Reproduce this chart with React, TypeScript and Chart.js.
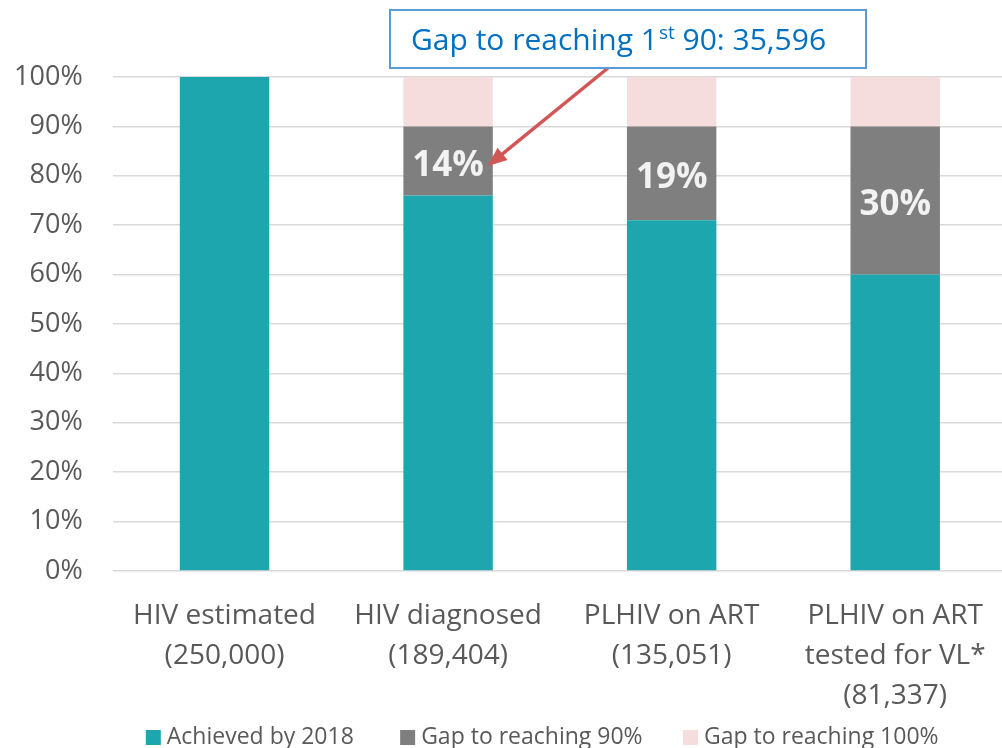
import React, { useEffect, useRef } from "react";
import { Chart, registerables } from "chart.js";

Chart.register(...registerables);

// ---- data ----
const categories: string[][] = [
  ["HIV estimated", "(250,000)"],
  ["HIV diagnosed", "(189,404)"],
  ["PLHIV on ART", "(135,051)"],
  ["PLHIV on ART", "tested for VL*", "(81,337)"],
];
const achieved = [100, 76, 71, 60];
const gapTo90 = [0, 14, 19, 30];
const gapTo100 = [0, 10, 10, 10];
const seriesNames = ["Achieved by 2018", "Gap to reaching 90%", "Gap to reaching 100%"];
const annotationMain = "Gap to reaching 1";
const annotationSup = "st";
const annotationRest = " 90: 35,596";

const FONT = "'Open Sans', 'Noto Sans', sans-serif";
const TEXT_GRAY = "#595959";
const TEAL = "#1EA6AE";
const GRAY = "#7F7F7F";
const PINK = "#F5DCDD";

const legendTrail = ["       ", "      ", "     "];

const dataLabelPlugin = {
  id: "gapLabels",
  afterDatasetsDraw(chart: any) {
    const ctx = chart.ctx;
    const meta = chart.getDatasetMeta(1);
    ctx.save();
    ctx.font = `bold 35px ${FONT}`;
    ctx.fillStyle = "#F2F2F2";
    ctx.textAlign = "center";
    ctx.textBaseline = "middle";
    meta.data.forEach((el: any, i: number) => {
      const v = gapTo90[i];
      if (!v) return;
      const cy = (el.y + el.base) / 2 + 5;
      ctx.fillText(`${v}%`, el.x, cy);
    });
    ctx.restore();
  },
};

const annotationPlugin = {
  id: "gapAnnotation",
  afterDraw(chart: any) {
    const ctx = chart.ctx;
    const el = chart.getDatasetMeta(1).data[1];
    const yScale = chart.scales.y;
    const box = { x: 390, y: 10, w: 476, h: 58 };
    ctx.save();
    // arrow
    const sx = 608;
    const sy = box.y + box.h;
    const tx = el.x + el.width / 2 - 5;
    const ty = yScale.getPixelForValue(82);
    const ang = Math.atan2(ty - sy, tx - sx);
    const headLen = 19;
    const headHalf = 8;
    const bx = tx - Math.cos(ang) * headLen;
    const by = ty - Math.sin(ang) * headLen;
    ctx.strokeStyle = "#D35656";
    ctx.fillStyle = "#D35656";
    ctx.lineWidth = 3.5;
    ctx.beginPath();
    ctx.moveTo(sx, sy);
    ctx.lineTo(bx + Math.cos(ang) * 2, by + Math.sin(ang) * 2);
    ctx.stroke();
    ctx.beginPath();
    ctx.moveTo(tx, ty);
    ctx.lineTo(bx + Math.sin(ang) * headHalf, by - Math.cos(ang) * headHalf);
    ctx.lineTo(bx - Math.sin(ang) * headHalf, by + Math.cos(ang) * headHalf);
    ctx.closePath();
    ctx.fill();
    // box
    ctx.fillStyle = "#FFFFFF";
    ctx.fillRect(box.x, box.y, box.w, box.h);
    ctx.strokeStyle = "#5B9BD5";
    ctx.lineWidth = 2;
    ctx.strokeRect(box.x, box.y, box.w, box.h);
    // text
    ctx.fillStyle = "#0070C0";
    ctx.textBaseline = "alphabetic";
    ctx.textAlign = "left";
    let x = box.x + 21;
    const base = 50;
    ctx.font = `30px ${FONT}`;
    ctx.fillText(annotationMain, x, base);
    x += ctx.measureText(annotationMain).width + 1;
    ctx.font = `19px ${FONT}`;
    ctx.fillText(annotationSup, x, base - 11);
    x += ctx.measureText(annotationSup).width;
    ctx.font = `30px ${FONT}`;
    ctx.fillText(annotationRest, x, base);
    ctx.restore();
  },
};

export default function App() {
  const ref = useRef<HTMLCanvasElement | null>(null);

  useEffect(() => {
    if (!ref.current) return;
    const chart = new Chart(ref.current, {
      type: "bar",
      data: {
        labels: categories,
        datasets: [
          { label: seriesNames[0], data: achieved, backgroundColor: TEAL, borderWidth: 0 },
          { label: seriesNames[1], data: gapTo90, backgroundColor: GRAY, borderWidth: 0 },
          { label: seriesNames[2], data: gapTo100, backgroundColor: PINK, borderWidth: 0 },
        ],
      },
      options: {
        responsive: false,
        animation: false,
        devicePixelRatio: 1,
        layout: { padding: { left: 13, right: 3, top: 77, bottom: -11 } },
        datasets: {
          bar: { barPercentage: 0.4, categoryPercentage: 1.0 },
        },
        scales: {
          x: {
            stacked: true,
            grid: { display: false },
            border: { display: false },
            ticks: {
              color: TEXT_GRAY,
              font: { family: FONT, size: 28, lineHeight: "40px" },
              padding: 17,
              maxRotation: 0,
              autoSkip: false,
            },
            afterFit: (s: any) => {
              s.paddingLeft = 0;
              s.paddingRight = 0;
              s.height = 145;
            },
          },
          y: {
            stacked: true,
            min: 0,
            max: 100,
            grid: { color: "#D9D9D9", lineWidth: 1.5, drawTicks: false },
            border: { display: false },
            ticks: {
              stepSize: 10,
              color: TEXT_GRAY,
              font: { family: FONT, size: 27 },
              padding: 30,
              callback: (v: any) => `${v}%`,
            },
            afterFit: (s: any) => {
              s.width = 99.75;
            },
          },
        },
        plugins: {
          title: { display: false },
          tooltip: { enabled: false },
          legend: {
            position: "bottom",
            fullSize: false,
            labels: {
              color: TEXT_GRAY,
              font: { family: FONT, size: 23 },
              usePointStyle: true,
              pointStyle: "rect",
              boxWidth: 4,
              boxHeight: 15,
              padding: 10,
              generateLabels: (c: any) =>
                c.data.datasets.map((ds: any, i: number) => ({
                  text: ds.label + legendTrail[i],
                  fillStyle: ds.backgroundColor,
                  strokeStyle: ds.backgroundColor,
                  lineWidth: 0,
                  pointStyle: "rect",
                  hidden: false,
                  datasetIndex: i,
                  fontColor: TEXT_GRAY,
                })),
            },
          },
        },
      },
      plugins: [dataLabelPlugin, annotationPlugin],
    });
    return () => chart.destroy();
  }, []);

  return (
    <div
      style={{
        position: "fixed",
        left: 0,
        top: 0,
        width: 1002,
        height: 748,
        overflow: "hidden",
        background: "#FFFFFF",
      }}
    >
      <canvas ref={ref} width={1010} height={748} style={{ display: "block" }} />
    </div>
  );
}
